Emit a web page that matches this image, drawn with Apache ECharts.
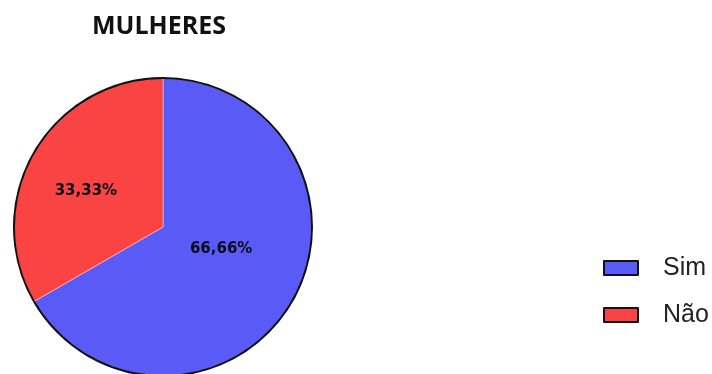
<!DOCTYPE html>
<html><head><meta charset="utf-8">
<script src="https://cdn.jsdelivr.net/npm/echarts@6/dist/echarts.min.js"></script>
<style>html,body{margin:0;padding:0;background:#fff}#c{width:712px;height:374px}</style>
</head><body><div id="c"></div>
<script>
const categories = ['Sim', 'Não'];
const values = [66.66, 33.33];
const labels = ['66,66%', '33,33%'];
const colors = ['#5a5af6', '#fa4343'];

const chart = echarts.init(document.getElementById('c'), null, {renderer: 'canvas'});
const data = categories.map((n, i) => ({name: n, value: values[i], itemStyle: {color: colors[i]}}));
chart.setOption({
  animation: false,
  backgroundColor: '#ffffff',
  title: {
    text: 'MULHERES', left: 159, top: 14, textAlign: 'center', padding: 0,
    textStyle: {fontFamily: 'Open Sans', fontWeight: 'bold', fontSize: 25, color: '#111'}
  },
  legend: {
    orient: 'vertical', left: 598, top: 250,
    data: categories, icon: 'rect', itemWidth: 34, itemHeight: 14, itemGap: 21,
    itemStyle: {borderColor: '#111', borderWidth: 2},
    textStyle: {fontFamily: 'Liberation Sans', fontSize: 25, color: '#222', lineHeight: 26, padding: [0, 0, 0, 20]}
  },
  series: [
    {
      type: 'pie', center: [163, 227], radius: 149, startAngle: 90, clockwise: true,
      data: data,
      itemStyle: {borderColor: 'rgba(255,200,200,0.6)', borderWidth: 1},
      label: {
        position: 'inside',
        formatter: p => labels[p.dataIndex],
        fontFamily: 'DejaVu Sans', fontWeight: 'bold', fontSize: 15, color: '#0c0c1c'
      },
      labelLayout: p => p.dataIndex === 0 ? {dx: -9, dy: -17} : {dx: -10, dy: 3},
      emphasis: {disabled: true}
    },
    {
      type: 'pie', center: [163, 227], radius: [148, 150], silent: true,
      data: categories.map((n, i) => ({name: n, value: values[i]})),
      itemStyle: {color: '#111', borderWidth: 0},
      label: {show: false}, labelLine: {show: false},
      emphasis: {disabled: true}
    }
  ]
});
</script></body></html>
